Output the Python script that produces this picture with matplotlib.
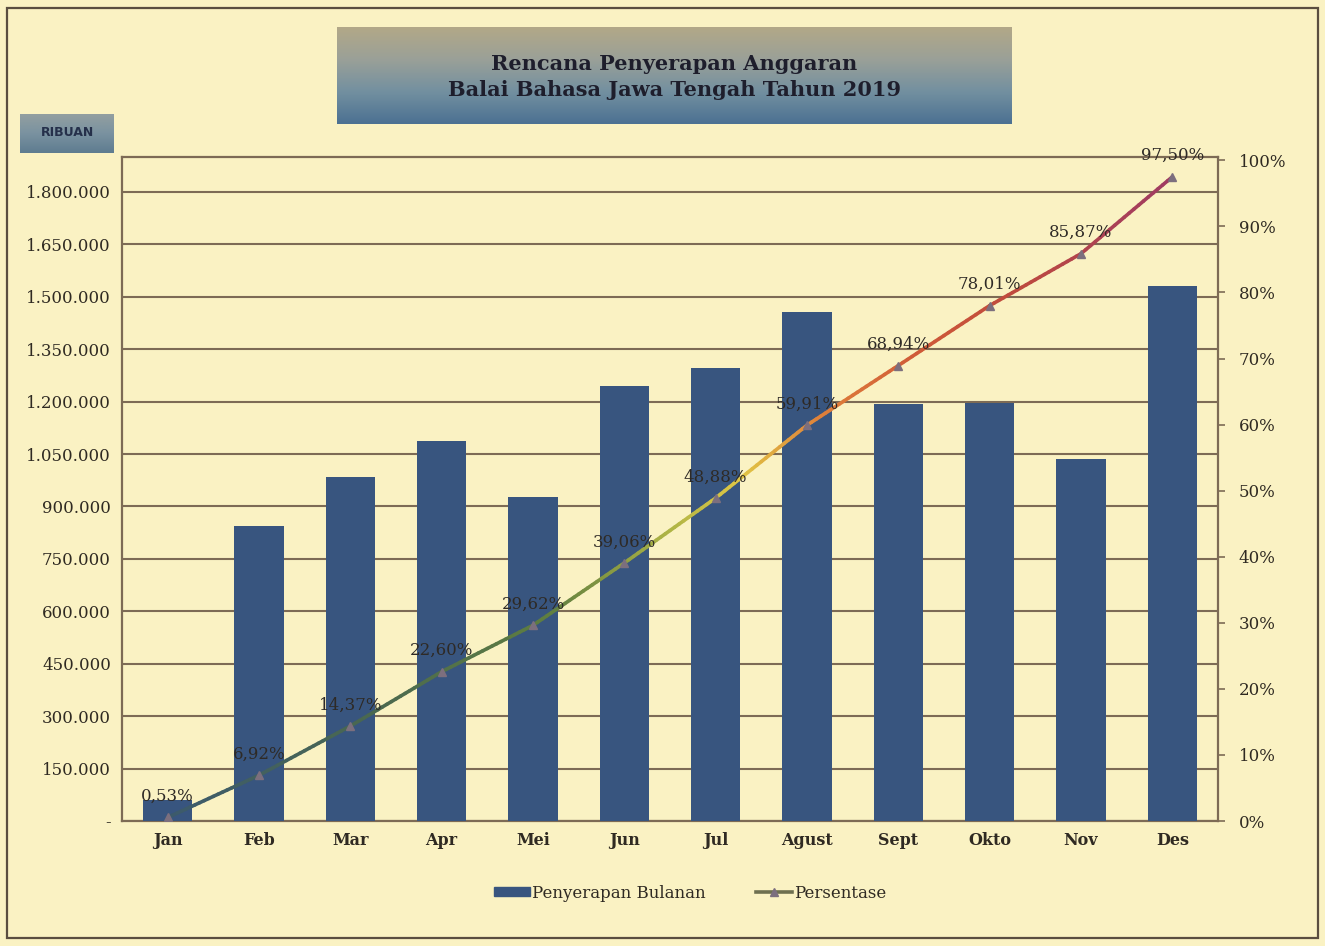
import numpy as np
import matplotlib
matplotlib.use("Agg")
import matplotlib.pyplot as plt
from matplotlib.collections import LineCollection
from matplotlib.colors import LinearSegmentedColormap
from matplotlib.patches import Rectangle, Patch
from matplotlib.lines import Line2D

months = ["Jan", "Feb", "Mar", "Apr", "Mei", "Jun", "Jul", "Agust", "Sept", "Okto", "Nov", "Des"]
monthly = [60000, 845000, 984000, 1087000, 927000, 1245000, 1296000, 1457000, 1193000, 1196000, 1036000, 1531000]
percent = [0.53, 6.92, 14.37, 22.60, 29.62, 39.06, 48.88, 59.91, 68.94, 78.01, 85.87, 97.50]
left_ticks = [0, 150000, 300000, 450000, 600000, 750000, 900000, 1050000, 1200000, 1350000, 1500000, 1650000, 1800000]
right_ticks = [0, 10, 20, 30, 40, 50, 60, 70, 80, 90, 100]
title_lines = ["Rencana Penyerapan Anggaran", "Balai Bahasa Jawa Tengah Tahun 2019"]

BG = "#FAF2C3"
BAR = "#38557F"
GRID = "#7D6B55"
TXT = "#2F2A22"
SERIF = ["DejaVu Serif"]

W, H = 1325, 946
fig = plt.figure(figsize=(W / 100, H / 100), dpi=100, facecolor=BG)

def fx(px):
    return px / W

def fy(py):
    return 1 - py / H

# outer border
fig.patches.append(Rectangle((fx(7), fy(938)), fx(1318) - fx(7), fy(8) - fy(938),
                             transform=fig.transFigure, fill=False,
                             edgecolor="#5A4E40", linewidth=1.6, zorder=0))

ax = fig.add_axes([fx(122), fy(821), fx(1218) - fx(122), fy(157) - fy(821)])
ax.set_facecolor(BG)
x = np.arange(len(months))
ax.bar(x, monthly, width=0.54, color=BAR, zorder=3)
ax.set_xlim(-0.5, len(months) - 0.5)
ax.set_ylim(0, 1900000)
ax.set_yticks(left_ticks)
ax.set_yticklabels(["-" if v == 0 else f"{v:,}".replace(",", ".") for v in left_ticks],
                   fontsize=12, color=TXT, family=SERIF)
ax.yaxis.grid(True, color=GRID, linewidth=1.5, zorder=0)
ax.set_axisbelow(True)
ax.tick_params(axis="y", length=0, pad=8)
ax.set_xticks(x)
ax.set_xticklabels(months, fontsize=11.5, fontweight="bold", color=TXT, family=SERIF)
ax.tick_params(axis="x", length=0, pad=8)
for s in ["left", "bottom", "top", "right"]:
    ax.spines[s].set_color(GRID)
    ax.spines[s].set_linewidth(1.6)

ax2 = ax.twinx()
ax2.set_ylim(0, 100.5)
ax2.set_yticks(right_ticks)
ax2.set_yticklabels([f"{v}%" for v in right_ticks], fontsize=12, color=TXT, family=SERIF)
ax2.tick_params(axis="y", direction="out", length=5, width=1.2, color=GRID, pad=10)
for s in ["left", "bottom", "top", "right"]:
    ax2.spines[s].set_visible(False)

# gradient coloured line
cmap = LinearSegmentedColormap.from_list("grad", [
    (0.0, "#3C5A6C"), (0.2, "#4A6850"), (0.38, "#5F7E40"), (0.5, "#AEB445"),
    (0.57, "#E0C845"), (0.65, "#E0823A"), (0.75, "#CF5A38"), (0.85, "#BE4A3E"),
    (1.0, "#A03C62")])
xs, ys = [], []
n_sub = 20
for i in range(len(x) - 1):
    t = np.linspace(0, 1, n_sub, endpoint=(i == len(x) - 2))
    xs.extend(x[i] + (x[i + 1] - x[i]) * t)
    ys.extend(percent[i] + (percent[i + 1] - percent[i]) * t)
xs = np.array(xs)
ys = np.array(ys)
pts = np.column_stack([xs, ys]).reshape(-1, 1, 2)
segs = np.concatenate([pts[:-1], pts[1:]], axis=1)
lc = LineCollection(segs, cmap=cmap, linewidth=2.6, zorder=4, capstyle="round")
lc.set_array(xs[:-1] / (len(x) - 1))
ax2.add_collection(lc)
ax2.plot(x, percent, linestyle="none", marker="^", markersize=6, color="#7C6F7E", zorder=5)
for xi, p in zip(x, percent):
    ax2.annotate(f"{p:.2f}%".replace(".", ","), (xi, p), xytext=(0, 9),
                 textcoords="offset points", ha="center", va="bottom",
                 fontsize=12, color="#2E2A26", family=SERIF, zorder=6)

# title box with gradient
tax = fig.add_axes([fx(337), fy(124), fx(1012) - fx(337), fy(27) - fy(124)])
grad = LinearSegmentedColormap.from_list("tg", ["#B2A888", "#9AA098", "#7390A0", "#4C7192"])
tax.imshow(np.linspace(0, 1, 100).reshape(-1, 1), aspect="auto", cmap=grad,
           extent=[0, 1, 0, 1], origin="upper")
tax.set_xlim(0, 1)
tax.set_ylim(0, 1)
tax.axis("off")
tax.text(0.5, 0.62, title_lines[0], ha="center", va="center", fontsize=15,
         fontweight="bold", color="#1E1E2C", family=SERIF)
tax.text(0.5, 0.35, title_lines[1], ha="center", va="center", fontsize=15,
         fontweight="bold", color="#1E1E2C", family=SERIF)

# RIBUAN box
rax = fig.add_axes([fx(20), fy(153), fx(114) - fx(20), fy(114) - fy(153)])
rgrad = LinearSegmentedColormap.from_list("rg", ["#929FA0", "#7A92A0", "#5E7C90"])
rax.imshow(np.linspace(0, 1, 50).reshape(-1, 1), aspect="auto", cmap=rgrad,
           extent=[0, 1, 0, 1], origin="upper")
rax.set_xlim(0, 1)
rax.set_ylim(0, 1)
rax.axis("off")
rax.text(0.5, 0.52, "RIBUAN", ha="center", va="center", fontsize=9,
         fontweight="bold", color="#25304A", family=["Liberation Sans Narrow", "DejaVu Sans"])

handles = [Patch(facecolor=BAR, edgecolor=BAR, label="Penyerapan Bulanan"),
           Line2D([0], [0], color="#6E7050", linewidth=2.6, marker="^", markersize=6,
                  markerfacecolor="#7C6F7E", markeredgecolor="#7C6F7E", label="Persentase")]
leg = fig.legend(handles=handles, loc="center", bbox_to_anchor=(fx(690), fy(893)), ncol=2,
                 frameon=False, prop={"family": SERIF, "size": 12}, handlelength=2.2,
                 handleheight=0.5, handletextpad=0.1, columnspacing=3.0)
for t in leg.get_texts():
    t.set_color(TXT)

fig.savefig("out.png", dpi=100, facecolor=BG)
